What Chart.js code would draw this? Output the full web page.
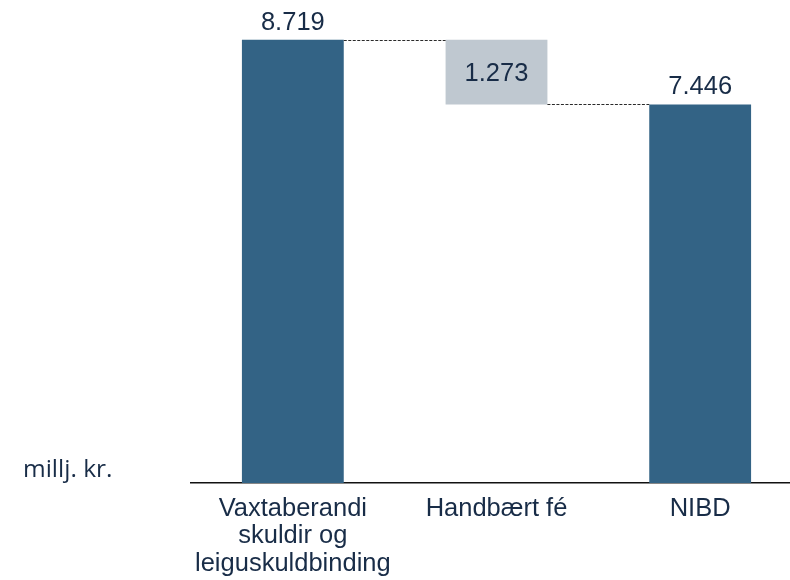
<!DOCTYPE html>
<html>
<head>
<meta charset="utf-8">
<script src="https://cdn.jsdelivr.net/npm/chart.js@4/dist/chart.umd.min.js"></script>
<style>
  html, body { margin: 0; padding: 0; overflow: hidden; background: #ffffff; }
  #wrap { width: 802px; height: 580px; }
</style>
</head>
<body>
<div id="wrap"><canvas id="c" width="802" height="580"></canvas></div>
<script>
// ---- data ----
const categories = [["Vaxtaberandi", "skuldir og", "leiguskuldbinding"], "Handbært fé", "NIBD"];
const barStarts = [0, 7.446, 0];
const barEnds = [8.719, 8.719, 7.446];
const valueLabels = ["8.719", "1.273", "7.446"];
const runningTotals = [8.719, 7.446];   // connector levels between consecutive bars
const unitLabel = "millj. kr.";

// ---- styles ----
const DARK = "#336385";
const GREY = "#bfc8d0";
const TEXT = "#182c47";
const barColors = [DARK, GREY, DARK];
const FONT = "'Liberation Sans', Arial, sans-serif";

const waterfallPlugin = {
  id: "waterfall",
  afterDatasetsDraw(chart) {
    const ctx = chart.ctx;
    const meta = chart.getDatasetMeta(0);
    const y = chart.scales.y;
    ctx.save();
    // connectors
    ctx.strokeStyle = "#2a2a2a";
    ctx.lineWidth = 1;
    ctx.setLineDash([3, 1.5]);
    for (let i = 0; i < runningTotals.length; i++) {
      const a = meta.data[i], b = meta.data[i + 1];
      const py = Math.round(y.getPixelForValue(runningTotals[i])) + 0.5;
      ctx.beginPath();
      ctx.moveTo(a.x + a.width / 2, py);
      ctx.lineTo(b.x - b.width / 2, py);
      ctx.stroke();
    }
    ctx.setLineDash([]);
    // value labels
    ctx.fillStyle = TEXT;
    ctx.font = "25.5px " + FONT;
    ctx.textAlign = "center";
    for (let i = 0; i < meta.data.length; i++) {
      const el = meta.data[i];
      if (barStarts[i] !== 0) {
        const mid = (y.getPixelForValue(barStarts[i]) + y.getPixelForValue(barEnds[i])) / 2;
        ctx.textBaseline = "middle";
        ctx.fillText(valueLabels[i], el.x, mid + 2);
      } else {
        ctx.textBaseline = "alphabetic";
        ctx.fillText(valueLabels[i], el.x, y.getPixelForValue(barEnds[i]) - 10);
      }
    }
    // unit label
    ctx.font = "24.5px 'Open Sans', sans-serif";
    ctx.textAlign = "left";
    ctx.textBaseline = "alphabetic";
    ctx.fillText(unitLabel, 23, 477);
    ctx.restore();
  }
};

new Chart(document.getElementById("c"), {
  type: "bar",
  data: {
    labels: categories,
    datasets: [{
      data: barStarts.map((s, i) => [s, barEnds[i]]),
      backgroundColor: barColors,
      borderWidth: 0,
      barPercentage: 0.5,
      categoryPercentage: 1.0
    }]
  },
  options: {
    responsive: false,
    animation: false,
    layout: { padding: { left: 191, right: 0, top: 0, bottom: 0 } },
    plugins: { legend: { display: false }, tooltip: { enabled: false } },
    scales: {
      x: {
        grid: { display: false, drawTicks: false },
        border: { display: true, color: "#111111", width: 1.5 },
        ticks: {
          color: TEXT,
          font: { family: FONT, size: 25.5, lineHeight: 1.08 },
          padding: 12,
          maxRotation: 0,
          autoSkip: false
        },
        afterFit(scale) { scale.height = 97; }
      },
      y: {
        display: false,
        min: 0,
        max: 9.5
      }
    }
  },
  plugins: [waterfallPlugin]
});
</script>
</body>
</html>
